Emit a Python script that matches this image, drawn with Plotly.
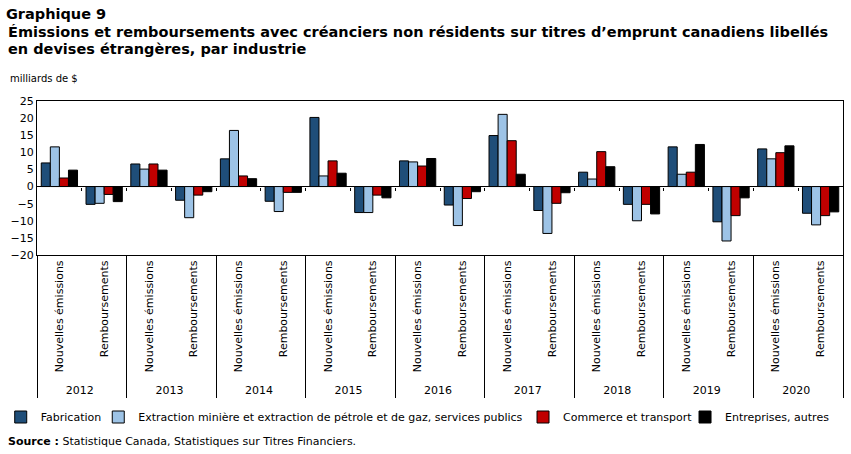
import plotly.graph_objects as go

years = ["2012", "2013", "2014", "2015", "2016", "2017", "2018", "2019", "2020"]
types = ["Nouvelles émissions", "Remboursements"]

fabrication = [6.9, -5.2, 6.6, -4.0, 8.1, -4.3, 20.2, -7.6, 7.5, -5.4,
               14.9, -7.0, 4.2, -5.2, 11.6, -10.3, 11.0, -7.8]
extraction = [11.6, -4.9, 5.1, -9.1, 16.4, -7.3, 3.1, -7.6, 7.2, -11.4,
              21.1, -13.7, 2.2, -10.0, 3.6, -15.9, 8.1, -11.2]
commerce = [2.5, -2.3, 6.6, -2.5, 3.1, -1.7, 7.5, -2.5, 6.0, -3.5,
            13.4, -4.9, 10.2, -5.2, 4.2, -8.5, 9.9, -8.5]
entreprises = [4.8, -4.4, 4.8, -1.5, 2.3, -1.7, 3.9, -3.3, 8.2, -1.5,
               3.6, -1.8, 5.8, -8.0, 12.3, -3.3, 11.9, -7.4]

series = [
    ("Fabrication", fabrication, "#1F4E79"),
    ("Extraction minière et extraction de pétrole et de gaz, services publics", extraction, "#9DC3E6"),
    ("Commerce et transport", commerce, "#C00000"),
    ("Entreprises, autres", entreprises, "#000000"),
]
legend_x = [-0.045, 0.076, 0.603, 0.804]

title_lines = [
    "Graphique 9",
    "Émissions et remboursements avec créanciers non résidents sur titres d’emprunt canadiens libellés",
    "en devises étrangères, par industrie",
]

x_outer = [y for y in years for _ in types]
x_inner = [t for _ in years for t in types]
n_cat = len(x_inner)

FONT = "DejaVu Sans"
fig = go.Figure()
legend_ids = ["legend", "legend2", "legend3", "legend4"]
for (name, vals, col), lid in zip(series, legend_ids):
    fig.add_trace(go.Bar(
        x=[x_outer, x_inner], y=vals, name=name, legend=lid,
        marker=dict(color=col, line=dict(color="#000000", width=1)),
    ))

# helper (invisible) trace so the tick-only overlay axis on the zero line is drawn
fig.add_trace(go.Scatter(x=[None], y=[None], xaxis="x2", yaxis="y",
                         showlegend=False, hoverinfo="skip", mode="markers"))

layout_legends = {}
for lid, lx in zip(legend_ids, legend_x):
    layout_legends[lid] = dict(
        x=lx, xanchor="left", xref="paper",
        y=1 - 417 / 454, yanchor="middle", yref="container",
        orientation="h", font=dict(family=FONT, size=11),
        bgcolor="rgba(0,0,0,0)", borderwidth=0,
    )

fig.update_layout(
    width=851, height=454,
    margin=dict(l=37, r=8, t=101, b=199, autoexpand=False),
    paper_bgcolor="white", plot_bgcolor="white",
    barmode="group", bargap=0.19, bargroupgap=0,
    font=dict(family=FONT, size=11, color="#000000"),
    showlegend=True,
    title=dict(
        text=title_lines[0],
        x=0.007, xanchor="left", y=1 - 14 / 454, yanchor="middle", yref="container",
        font=dict(family=FONT, size=14.5, color="#000000", weight="bold"),
    ),
    xaxis=dict(
        type="multicategory", tickangle=-90,
        showline=True, linecolor="#000000", linewidth=1, mirror=True,
        showgrid=False, ticks="", showdividers=True, dividercolor="#000000", dividerwidth=1,
        tickfont=dict(family=FONT, size=11),
    ),
    xaxis2=dict(
        overlaying="x", anchor="free", position=20 / 45, side="bottom",
        range=[-0.5, n_cat - 0.5], showgrid=False, zeroline=False, showline=False,
        ticks="outside", ticklen=3, tickwidth=1, tickcolor="#000000",
        tickvals=[i + 0.5 for i in range(n_cat - 1)], showticklabels=False,
        fixedrange=True,
    ),
    **layout_legends,
)

for txt, py in zip(title_lines[1:], [32, 48.5]):
    fig.add_annotation(text="<b>" + txt + "</b>", xref="paper", yref="paper",
                       x=(6 - 37) / 806, y=(255 - py) / 154, xanchor="left", yanchor="middle",
                       showarrow=False, font=dict(family=FONT, size=14.5, color="#000000"))

fig.update_yaxes(
    range=[-20, 25], dtick=5, tick0=0,
    showline=True, linecolor="#000000", linewidth=1, mirror=True,
    showgrid=False, zeroline=True, zerolinecolor="#000000", zerolinewidth=1,
    ticks="", tickfont=dict(family=FONT, size=11),
)

fig.add_annotation(text="milliards de $", xref="paper", yref="paper", x=-0.036, y=1.149,
                   xanchor="left", yanchor="middle", showarrow=False,
                   font=dict(family=FONT, size=10))
fig.add_annotation(text="<b>Source :</b> Statistique Canada, Statistiques sur Titres Financiers.",
                   xref="paper", yref="paper", x=-0.039, y=-1.208,
                   xanchor="left", yanchor="middle", showarrow=False,
                   font=dict(family=FONT, size=11))

fig.write_html("out.html")
